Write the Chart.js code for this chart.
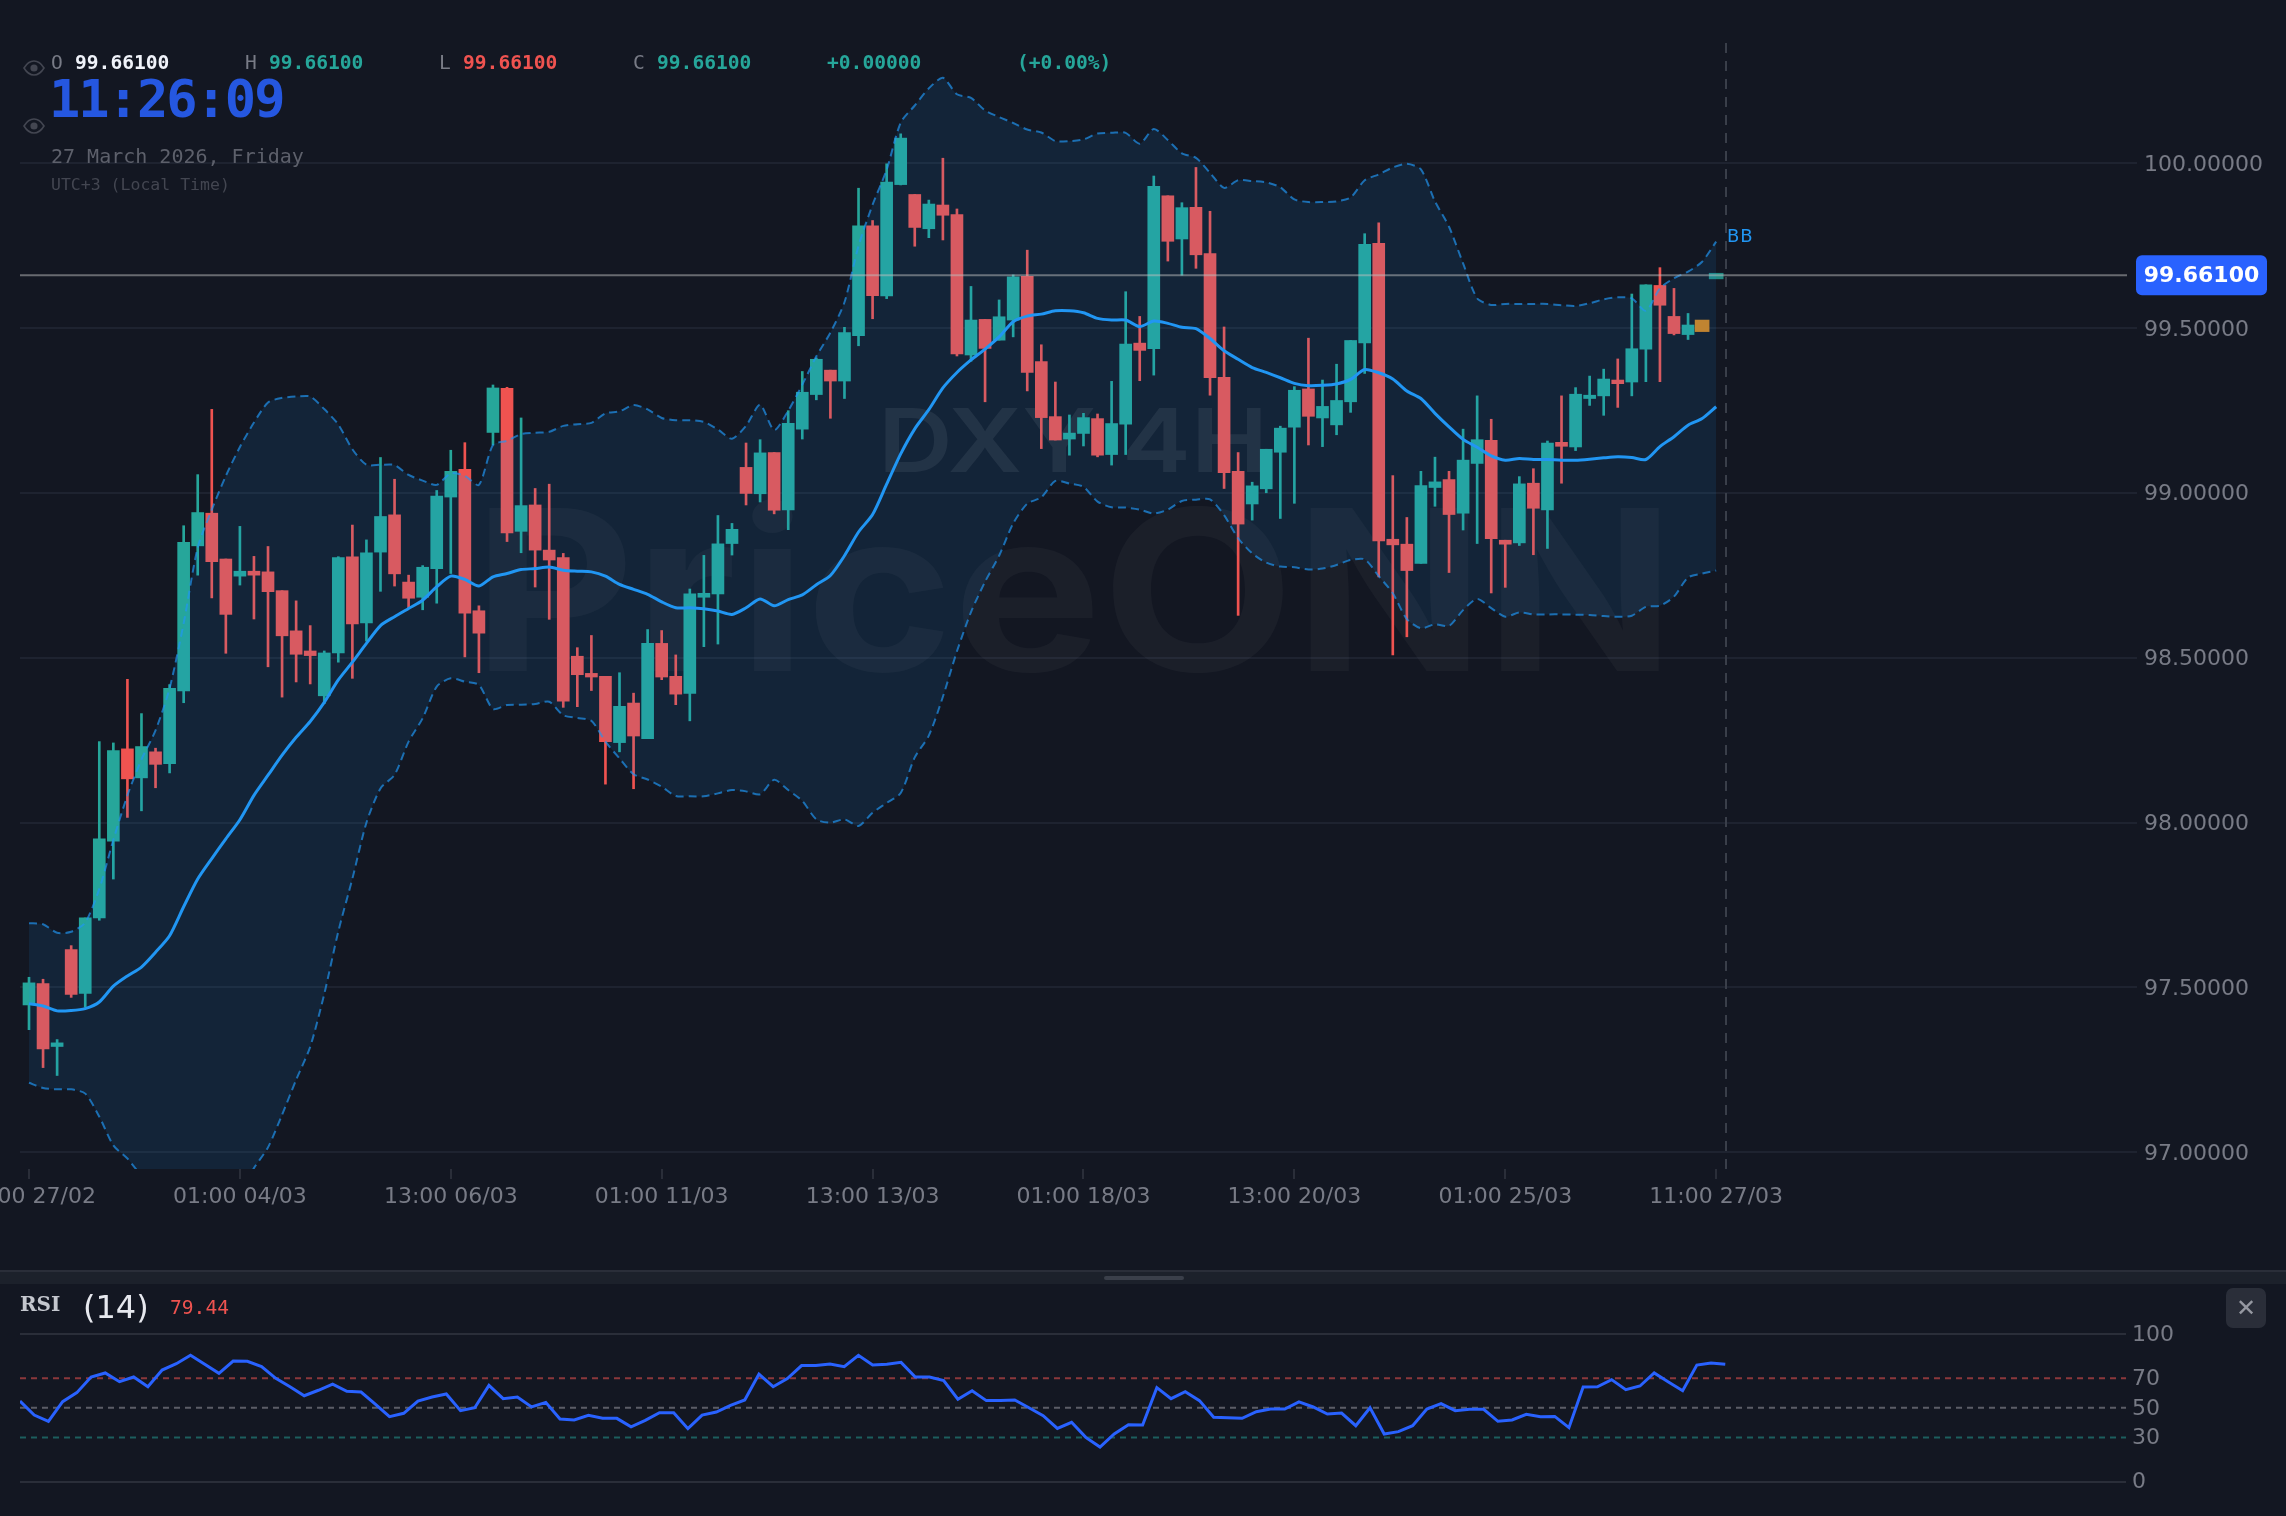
<!DOCTYPE html>
<html><head><meta charset="utf-8">
<script src="https://cdn.jsdelivr.net/npm/chart.js@4/dist/chart.umd.min.js"></script>
<style>
html,body{margin:0;padding:0;background:#131722;width:2286px;height:1516px;overflow:hidden;font-family:"DejaVu Sans",sans-serif}
canvas{position:absolute;left:0}
.t{position:absolute;white-space:pre;line-height:1}
.m{font-family:"DejaVu Sans Mono",monospace;font-size:19.6px}
.b{font-weight:bold}
svg{position:absolute}
</style></head><body>
<canvas id="main" width="2286" height="1270" style="top:0"></canvas>
<canvas id="rsi" width="2286" height="231" style="top:1285px"></canvas>

<div class="t m" style="left:51px;top:53px;color:#787b86">O</div><div class="t m b" style="left:75px;top:53px;color:#f0f3fa">99.66100</div>
<div class="t m" style="left:245px;top:53px;color:#787b86">H</div><div class="t m b" style="left:269px;top:53px;color:#26a69a">99.66100</div>
<div class="t m" style="left:439px;top:53px;color:#787b86">L</div><div class="t m b" style="left:463px;top:53px;color:#ef5350">99.66100</div>
<div class="t m" style="left:633px;top:53px;color:#787b86">C</div><div class="t m b" style="left:657px;top:53px;color:#26a69a">99.66100</div>
<div class="t m b" style="left:827px;top:53px;color:#26a69a">+0.00000</div>
<div class="t m b" style="left:1017px;top:53px;color:#26a69a">(+0.00%)</div>
<div class="t b" style="left:49px;top:73px;font-family:'DejaVu Sans Mono',monospace;font-size:52px;letter-spacing:-2px;color:#2557e0">11:26:09</div>
<div class="t" style="left:51px;top:146px;font-family:'DejaVu Sans Mono',monospace;font-size:20px;color:#5d606b">27 March 2026, Friday</div>
<div class="t" style="left:51px;top:177px;font-family:'DejaVu Sans Mono',monospace;font-size:16.5px;color:#434651">UTC+3 (Local Time)</div>
<svg style="left:23px;top:60px" width="22" height="16" viewBox="0 0 22 16"><path d="M1 8C4 3 7 1 11 1s7 2 10 7c-3 5-6 7-10 7S4 13 1 8z" fill="none" stroke="#434651" stroke-width="1.6"/><circle cx="11" cy="8" r="3.6" fill="#434651"/></svg>
<svg style="left:23px;top:118px" width="22" height="16" viewBox="0 0 22 16"><path d="M1 8C4 3 7 1 11 1s7 2 10 7c-3 5-6 7-10 7S4 13 1 8z" fill="none" stroke="#434651" stroke-width="1.6"/><circle cx="11" cy="8" r="3.6" fill="#434651"/></svg>

<div style="position:absolute;left:0;top:1270px;width:2286px;height:14px;background:#1c212b;border-top:2px solid #2a2e39;box-sizing:border-box"></div>
<div style="position:absolute;left:1104px;top:1276px;width:80px;height:4px;border-radius:2px;background:#3a3f4a"></div>
<div class="t b" style="left:20px;top:1294px;font-family:'DejaVu Serif',serif;font-size:20px;color:#c4c7ce">RSI</div>
<div class="t" style="left:83px;top:1291px;font-size:32px;color:#e6e8ee">(14)</div>
<div class="t m" style="left:170px;top:1298px;color:#ef5350">79.44</div>
<div style="position:absolute;left:2226px;top:1288px;width:40px;height:40px;border-radius:7px;background:#2a2e39"></div>
<div class="t" style="left:2226px;top:1296px;width:40px;text-align:center;font-size:24px;color:#9598a1">✕</div>

<script>
const xTickIndexes = [0,15,30,45,60,75,90,105,120];
const xTickLabels = ["13:00 27/02","01:00 04/03","13:00 06/03","01:00 11/03","13:00 13/03","01:00 18/03","13:00 20/03","01:00 25/03","11:00 27/03"];
const priceTicks = [97,97.5,98,98.5,99,99.5,100];
const rsiTicks = [0,30,50,70,100];
const lastPrice = 99.661;
const crosshairIndex = 120.7;

const opens = [97.447,97.512,97.321,97.615,97.482,97.711,97.944,98.224,98.136,98.215,
98.179,98.400,98.840,98.939,98.800,98.748,98.763,98.761,98.704,98.582,
98.521,98.385,98.515,98.807,98.606,98.821,98.934,98.730,98.684,98.771,
98.988,99.072,98.643,99.184,99.318,98.884,98.964,98.827,98.804,98.505,
98.453,98.444,98.243,98.363,98.255,98.544,98.444,98.392,98.684,98.694,
98.847,99.078,98.998,99.123,98.949,99.194,99.299,99.373,99.340,99.478,
99.811,99.598,99.936,99.906,99.802,99.874,99.845,99.419,99.527,99.464,
99.525,99.658,99.399,99.232,99.164,99.181,99.226,99.117,99.209,99.455,
99.438,99.902,99.771,99.867,99.727,99.351,99.066,98.967,99.013,99.124,
99.200,99.316,99.228,99.207,99.277,99.456,99.758,98.860,98.845,98.787,
99.017,99.041,98.939,99.090,99.160,98.857,98.849,99.030,98.949,99.154,
99.140,99.287,99.295,99.343,99.337,99.437,99.630,99.536,99.481,99.490,99.650];
const closes = [97.514,97.314,97.332,97.479,97.711,97.951,98.219,98.133,98.231,98.177,
98.408,98.851,98.941,98.792,98.632,98.763,98.751,98.701,98.567,98.511,
98.507,98.515,98.804,98.603,98.819,98.929,98.755,98.681,98.775,98.991,
99.066,98.636,98.575,99.319,98.879,98.962,98.827,98.797,98.369,98.449,
98.442,98.246,98.353,98.263,98.544,98.442,98.390,98.694,98.696,98.846,
98.890,98.999,99.122,98.948,99.212,99.306,99.406,99.340,99.487,99.811,
99.599,99.944,100.077,99.806,99.877,99.843,99.422,99.525,99.439,99.535,
99.656,99.366,99.229,99.161,99.182,99.229,99.115,99.211,99.452,99.433,
99.931,99.764,99.866,99.723,99.350,99.062,98.906,99.022,99.133,99.197,
99.312,99.233,99.263,99.281,99.463,99.755,98.855,98.843,98.765,99.023,
99.034,98.935,99.100,99.162,98.862,98.845,99.028,98.954,99.152,99.142,
99.300,99.297,99.346,99.332,99.438,99.632,99.570,99.484,99.510,99.525,99.667];
const highs = [97.531,97.525,97.342,97.627,97.711,98.246,98.242,98.435,98.331,98.226,
98.419,98.901,99.056,99.254,98.800,98.899,98.808,98.838,98.704,98.673,
98.598,98.521,98.807,98.903,98.858,99.108,99.042,98.751,98.780,99.008,
99.130,99.153,98.658,99.328,99.321,99.228,99.014,99.027,98.817,98.531,
98.568,98.444,98.455,98.393,98.586,98.583,98.509,98.709,98.811,98.932,
98.908,99.152,99.162,99.123,99.250,99.369,99.410,99.373,99.503,99.925,
99.827,99.999,100.090,99.906,99.889,100.016,99.862,99.627,99.527,99.586,
99.662,99.737,99.450,99.337,99.237,99.242,99.240,99.339,99.611,99.536,
99.962,99.902,99.881,99.988,99.855,99.504,99.123,99.033,99.133,99.203,
99.323,99.470,99.343,99.391,99.463,99.787,99.820,99.053,98.926,99.066,
99.109,99.066,99.194,99.295,99.224,98.857,99.050,99.074,99.158,99.295,
99.320,99.355,99.376,99.407,99.604,99.632,99.684,99.621,99.545,99.525,99.667];
const lows = [97.372,97.257,97.233,97.470,97.440,97.704,97.829,98.016,98.036,98.106,
98.151,98.364,98.751,98.682,98.514,98.721,98.618,98.473,98.381,98.427,
98.421,98.361,98.487,98.438,98.551,98.702,98.718,98.652,98.646,98.666,
98.756,98.503,98.455,99.146,98.853,98.819,98.715,98.617,98.350,98.352,
98.401,98.117,98.215,98.103,98.255,98.434,98.358,98.309,98.534,98.542,
98.812,98.964,98.973,98.937,98.889,99.164,99.283,99.227,99.287,99.447,
99.529,99.590,99.935,99.749,99.775,99.768,99.416,99.400,99.277,99.464,
99.474,99.310,99.135,99.161,99.115,99.143,99.110,99.085,99.117,99.341,
99.358,99.704,99.661,99.682,99.297,99.014,98.629,98.918,99.001,98.923,
98.969,99.146,99.141,99.177,99.245,99.363,98.746,98.509,98.564,98.787,
98.960,98.759,98.888,98.847,98.697,98.714,98.841,98.813,98.832,99.030,
99.129,99.266,99.236,99.260,99.295,99.338,99.338,99.480,99.466,99.490,99.650];
const bbUpper = [97.695,97.692,97.666,97.669,97.697,97.799,97.948,98.083,98.192,98.280,
98.408,98.605,98.835,98.950,99.052,99.140,99.214,99.275,99.289,99.293,
99.293,99.255,99.208,99.133,99.086,99.086,99.085,99.055,99.038,99.025,
99.060,99.052,99.025,99.146,99.159,99.179,99.183,99.186,99.204,99.209,
99.213,99.242,99.248,99.267,99.254,99.228,99.221,99.221,99.216,99.193,
99.165,99.204,99.268,99.191,99.250,99.329,99.415,99.487,99.579,99.750,
99.875,99.981,100.124,100.176,100.228,100.260,100.210,100.199,100.161,100.141,
100.123,100.103,100.094,100.068,100.068,100.073,100.091,100.093,100.093,100.060,
100.105,100.071,100.031,100.017,99.972,99.926,99.949,99.947,99.943,99.928,
99.891,99.883,99.883,99.885,99.897,99.949,99.967,99.988,99.999,99.982,
99.885,99.808,99.697,99.591,99.571,99.574,99.574,99.574,99.574,99.570,
99.568,99.576,99.588,99.594,99.591,99.553,99.621,99.652,99.672,99.702,99.763];
const bbMiddle = [97.451,97.444,97.429,97.430,97.436,97.456,97.504,97.535,97.562,97.607,
97.657,97.745,97.829,97.891,97.951,98.009,98.083,98.144,98.205,98.259,
98.307,98.365,98.433,98.487,98.544,98.598,98.625,98.650,98.675,98.716,
98.748,98.738,98.718,98.746,98.756,98.768,98.771,98.776,98.766,98.763,
98.761,98.748,98.723,98.708,98.693,98.670,98.652,98.652,98.649,98.642,
98.632,98.652,98.679,98.658,98.677,98.691,98.722,98.750,98.810,98.882,
98.935,99.027,99.119,99.195,99.253,99.319,99.366,99.404,99.437,99.474,
99.520,99.537,99.543,99.553,99.553,99.547,99.530,99.525,99.525,99.505,
99.522,99.515,99.503,99.499,99.469,99.432,99.406,99.381,99.366,99.350,
99.333,99.326,99.327,99.331,99.345,99.375,99.365,99.346,99.310,99.287,
99.242,99.201,99.163,99.139,99.113,99.100,99.105,99.102,99.102,99.100,
99.100,99.103,99.107,99.110,99.108,99.102,99.141,99.171,99.206,99.226,99.262];
const bbLower = [97.211,97.195,97.191,97.191,97.178,97.108,97.021,96.981,96.932,96.920,
96.906,96.885,96.823,96.832,96.850,96.878,96.952,97.015,97.114,97.220,
97.320,97.480,97.670,97.830,98.000,98.104,98.145,98.246,98.317,98.413,
98.438,98.428,98.418,98.345,98.357,98.358,98.360,98.367,98.326,98.318,
98.309,98.246,98.195,98.147,98.131,98.109,98.081,98.080,98.080,98.089,
98.099,98.095,98.086,98.130,98.099,98.066,98.010,98.000,98.010,97.990,
98.030,98.060,98.090,98.198,98.264,98.382,98.520,98.639,98.731,98.810,
98.908,98.968,98.987,99.037,99.029,99.019,98.974,98.957,98.956,98.950,
98.938,98.950,98.976,98.980,98.981,98.933,98.863,98.817,98.789,98.777,
98.775,98.768,98.771,98.782,98.797,98.799,98.748,98.696,98.618,98.590,
98.602,98.597,98.645,98.679,98.651,98.625,98.638,98.632,98.632,98.632,
98.631,98.630,98.627,98.625,98.628,98.655,98.658,98.686,98.744,98.756,98.765];
const rsiValues = [54.6,45.1,40.9,54.2,60.3,70.9,73.6,67.7,70.9,64.3,
75.6,79.9,85.6,79.5,73.4,81.7,81.5,77.9,70.0,64.3,
58.2,61.9,66.1,61.2,60.7,52.6,44.0,46.3,54.6,57.3,
59.4,48.1,50.1,65.2,56.2,57.3,50.6,53.7,42.4,41.8,
44.9,42.9,42.9,37.2,41.5,46.7,46.7,35.9,45.1,47.2,
51.7,55.3,72.9,64.3,69.8,78.6,78.6,79.7,77.9,85.6,
79.0,79.5,80.8,70.9,70.9,68.4,55.8,61.6,54.9,54.9,
55.3,50.1,44.7,36.1,40.2,30.0,23.5,32.3,38.6,38.4,
63.7,56.2,60.9,54.9,43.6,43.3,42.9,47.4,49.2,49.2,
54.0,50.6,45.8,46.5,37.9,50.1,32.3,33.9,37.9,49.2,
52.8,48.1,49.0,49.0,40.9,41.8,45.6,44.0,44.2,36.6,
64.1,64.3,69.1,62.3,64.8,73.6,67.5,61.6,79.0,80.4,79.5];
const rsiLevels = [70,50,30];

const UP='#26a69a', DOWN='#ef5350', TXT='#787b86', GRID='#1e2330';
const FONT='"DejaVu Sans"';
const settled = 119; // candles before this index are closed
const colorOf = i => closes[i]>=opens[i] ? UP : DOWN;
const idx = opens.map((_,i)=>i);
const closedIdx = idx.slice(0,settled);
const line = a => a.map((y,x)=>({x,y}));

const PLOT_L=20, PLOT_R=2127;
const fullWidthX = {
  id:'fullWidthX',
  afterLayout(c){
    const s=c.scales.x, a=c.chartArea;
    a.left=PLOT_L; a.right=PLOT_R; a.width=PLOT_R-PLOT_L;
    s.left=PLOT_L; s.right=PLOT_R; s.width=PLOT_R-PLOT_L; s.paddingLeft=0; s.paddingRight=0;
    s.configure();
    s._startPixel=PLOT_L; s._endPixel=PLOT_R; s._length=PLOT_R-PLOT_L;
  }
};
const watermark = {
  id:'watermark',
  beforeDatasetsDraw(c){
    const {ctx}=c;
    const put=(txt,font,col,left,right,base)=>{
      ctx.save();ctx.font=font;ctx.fillStyle=col;ctx.textBaseline='alphabetic';ctx.textAlign='left';
      const w=ctx.measureText(txt).width;
      ctx.translate(left,base);ctx.scale((right-left)/w,1);ctx.fillText(txt,0,0);ctx.restore();
    };
    put('PriceONN','bold 224px Inter','rgba(255,255,255,0.035)',473,1675,671);
    put('DXY 4H','600 88px Inter','rgba(255,255,255,0.075)',878,1268,472);
  }
};
const priceTag = {
  id:'priceTag',
  afterDraw(c){
    const {ctx,scales:{y}}=c;
    const py=y.getPixelForValue(lastPrice);
    ctx.save();
    ctx.fillStyle='#2962ff';ctx.beginPath();ctx.roundRect(2136,py-20,131,40,6);ctx.fill();
    ctx.fillStyle='#fff';ctx.font='bold 22px '+FONT;ctx.textAlign='center';ctx.textBaseline='middle';
    ctx.fillText(lastPrice.toFixed(5),2201.5,py+1);
    ctx.fillStyle='#2196f3';ctx.font='18px '+FONT;ctx.textAlign='left';
    ctx.letterSpacing='1px';
    ctx.fillText('BB',1727,y.getPixelForValue(bbUpper[120])-4);
    ctx.restore();
  }
};

new Chart(document.getElementById('main'),{
  data:{datasets:[
    {type:'bar',label:'wick',order:8,barThickness:2,grouped:false,
      data:idx.slice(0,settled).map(i=>({x:i,y:[lows[i],highs[i]]})),
      backgroundColor:closedIdx.map(colorOf)},
    {type:'bar',label:'body',order:7,barThickness:12,grouped:false,
      data:closedIdx.map(i=>({x:i,y:[opens[i],closes[i]]})),
      backgroundColor:closedIdx.map(colorOf)},
    {type:'bar',label:'live',order:6,barThickness:14,grouped:false,
      data:[119,120].map(i=>({x:i,y:[opens[i],closes[i]]})),
      backgroundColor:['#d4821a','rgba(38,166,154,0.8)']},
    {type:'line',label:'BB lower',order:5,data:line(bbLower),borderColor:'rgba(33,150,243,0.68)',borderWidth:2,borderDash:[8,5],pointRadius:0,tension:0.25,fill:false},
    {type:'line',label:'BB upper',order:4,data:line(bbUpper),borderColor:'rgba(33,150,243,0.68)',borderWidth:2,borderDash:[8,5],pointRadius:0,tension:0.25,
      fill:{target:3},backgroundColor:'rgba(33,150,243,0.105)'},
    {type:'line',label:'BB middle',order:3,data:line(bbMiddle),borderColor:'#2196f3',borderWidth:3,pointRadius:0,tension:0.25,fill:false},
    {type:'line',label:'price',order:2,data:[{x:-0.64,y:lastPrice},{x:149.22,y:lastPrice}],borderColor:'rgba(190,190,190,0.5)',borderWidth:2,pointRadius:0,fill:false},
    {type:'line',label:'crosshair',order:1,data:[{x:crosshairIndex,y:96.9493},{x:crosshairIndex,y:100.3747}],borderColor:'#3a3f4a',borderWidth:2,borderDash:[10,8],pointRadius:0,fill:false}
  ]},
  options:{
    responsive:false,animation:false,devicePixelRatio:1,
    layout:{autoPadding:false,padding:{left:20,top:40,right:0,bottom:0}},
    plugins:{legend:{display:false},tooltip:{enabled:false}},
    scales:{
      x:{type:'linear',offset:false,min:-0.64,max:149.22,
        afterBuildTicks:s=>{s.ticks=xTickIndexes.map(value=>({value}))},
        afterFit:s=>{s.height=101},
        grid:{offset:false,drawOnChartArea:false,color:'#2a2e39',tickLength:10,lineWidth:2},border:{display:false},
        ticks:{autoSkip:false,maxRotation:0,padding:5,color:TXT,font:{family:FONT,size:22},
          callback:(v,i)=>xTickLabels[i]}},
      y:{position:'right',min:96.9493,max:100.3747,
        afterBuildTicks:s=>{s.ticks=priceTicks.map(value=>({value}))},
        afterFit:s=>{s.width=159},
        grid:{color:GRID,lineWidth:2,tickLength:10},border:{display:false},
        ticks:{padding:7,labelOffset:1.5,color:TXT,font:{family:FONT,size:22},callback:v=>v.toFixed(5)}}
    }
  },
  plugins:[fullWidthX,watermark,priceTag]
});

const levelStyles = [['rgba(239,83,80,0.55)'],['rgba(140,140,150,0.6)'],['rgba(38,166,154,0.5)']];
new Chart(document.getElementById('rsi'),{
  data:{datasets:[
    {type:'line',label:'RSI',order:1,data:line(rsiValues),borderColor:'#2962ff',borderWidth:3,pointRadius:0,tension:0,fill:false},
    ...rsiLevels.map((lv,k)=>({type:'line',label:'level '+lv,order:2,data:[{x:0,y:lv},{x:148.2,y:lv}],borderColor:levelStyles[k][0],borderWidth:2,borderDash:[6,5],pointRadius:0,fill:false}))
  ]},
  options:{
    responsive:false,animation:false,devicePixelRatio:1,
    layout:{autoPadding:false,padding:{left:20,top:49,right:0,bottom:34.3}},
    plugins:{legend:{display:false},tooltip:{enabled:false}},
    scales:{
      x:{type:'linear',min:0,max:148.2,display:false},
      y:{position:'right',min:0,max:100,
        afterBuildTicks:s=>{s.ticks=rsiTicks.map(value=>({value}))},
        afterFit:s=>{s.width=160},
        grid:{color:c=>(c.tick.value===0||c.tick.value===100)?'#2a2e39':'rgba(0,0,0,0)',lineWidth:2,tickLength:0},border:{display:false},
        ticks:{padding:6,labelOffset:1,color:TXT,font:{family:FONT,size:22}}}
    }
  }
});
</script>
</body></html>
